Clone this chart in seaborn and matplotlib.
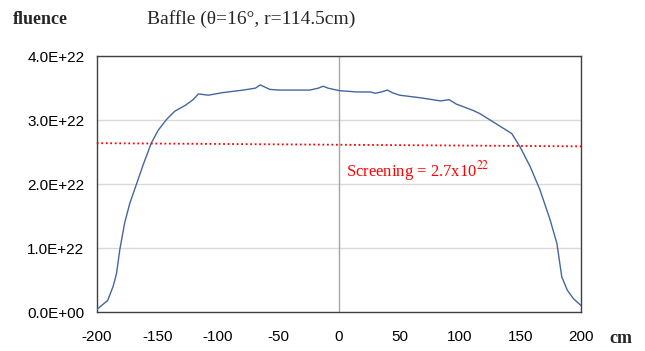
import numpy as np
import pandas as pd
import seaborn as sns
import matplotlib.pyplot as plt

# fluence profile along the baffle
position_cm = [-200, -191, -186.5, -183.7, -181, -177, -172.7, -167, -161.7, -155, -149.3,
               -142.4, -135.5, -127, -120.4, -116, -108, -96, -79, -69, -65, -57, -49,
               -24, -17, -13, -9, -2, 1, 15, 26, 30, 35, 40, 44, 50, 67, 84, 91, 97,
               111, 116.5, 127.5, 142.7, 149.6, 158, 166, 174.4, 180, 182, 184, 188.6, 193.6, 200]
fluence = [0.04, 0.18, 0.40, 0.60, 0.97, 1.39, 1.70, 2.01, 2.30, 2.64, 2.84,
           3.01, 3.14, 3.23, 3.32, 3.41, 3.39, 3.43, 3.47, 3.50, 3.55, 3.48, 3.47,
           3.47, 3.50, 3.53, 3.50, 3.47, 3.46, 3.44, 3.44, 3.42, 3.44, 3.47, 3.43, 3.39,
           3.35, 3.30, 3.32, 3.25, 3.15, 3.10, 2.97, 2.79, 2.58, 2.27, 1.91, 1.44, 1.07,
           0.81, 0.55, 0.34, 0.21, 0.10]

screen_x = [-200, 202]
screen_y = [2.64, 2.59]

y_ticks = [0, 1, 2, 3, 4]
y_labels = ["0.0E+00", "1.0E+22", "2.0E+22", "3.0E+22", "4.0E+22"]
x_ticks = [-200, -150, -100, -50, 0, 50, 100, 150, 200]

df = pd.DataFrame({"x": position_cm, "y": fluence})

sns.set_style("white")
plt.rcParams["font.family"] = ["Liberation Sans", "DejaVu Sans"]
plt.rcParams["mathtext.fontset"] = "stix"

fig = plt.figure(figsize=(6.45, 3.51), dpi=100)
ax = fig.add_axes([0.150, 0.111, 0.751, 0.729])

for t in y_ticks[1:]:
    ax.axhline(t, color="#d9d9d9", lw=1, zorder=0)
ax.axvline(0, color="#a6a6a6", lw=1, zorder=1)

sns.lineplot(data=df, x="x", y="y", ax=ax, color="#4466a0", lw=1.0, zorder=3)
ax.plot(screen_x, screen_y, color="red", ls=(0, (1, 1.5)), lw=1.3, clip_on=False, zorder=4)

ax.set_xlim(-200, 200)
ax.set_ylim(0, 4)
ax.set_xticks(x_ticks)
ax.set_xticklabels([str(v) for v in x_ticks], fontsize=11)
ax.set_yticks(y_ticks)
ax.set_yticklabels(y_labels, fontsize=11)
ax.tick_params(axis="both", direction="out", length=4, width=0.8, colors="#404040",
               labelcolor="black", pad=5)
ax.tick_params(axis="x", pad=9)
ax.set_xlabel("")
ax.set_ylabel("")
for s in ax.spines.values():
    s.set_color("#404040")
    s.set_linewidth(1)

ax.text(6, 2.2, r"Screening = 2.7x10$^{22}$", color="red", fontsize=12,
        family="Liberation Serif", va="center", ha="left")

fig.text(0.02, 0.945, "fluence", fontsize=13, fontweight="bold",
         family="Liberation Serif", va="center", ha="left")
fig.text(0.39, 0.945, "Baffle (\u03b8=16\u00b0, r=114.5cm)", fontsize=14,
         family="Liberation Serif", va="center", ha="center")
fig.text(0.945, 0.035, "cm", fontsize=13, fontweight="bold",
         family="Liberation Serif", va="center", ha="left")

fig.savefig("out.png", dpi=100)
